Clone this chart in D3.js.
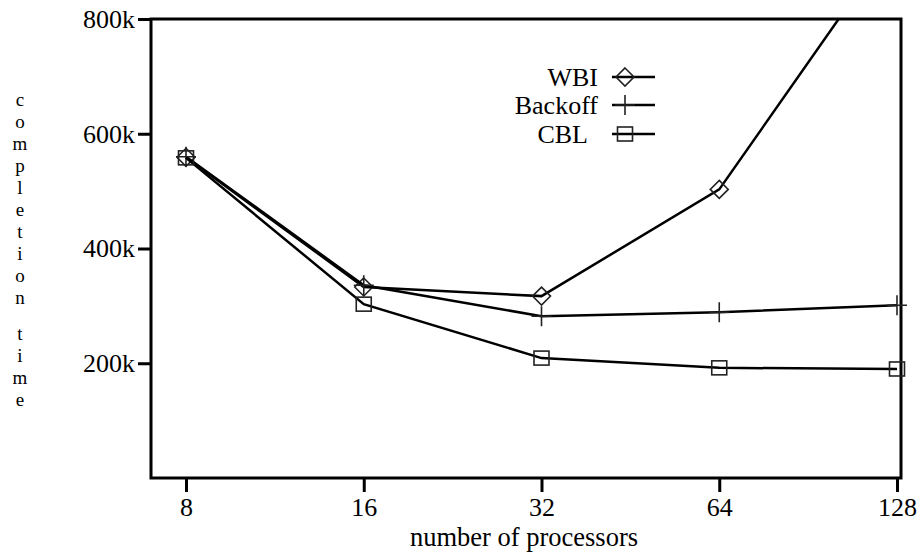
<!DOCTYPE html>
<html>
<head>
<meta charset="utf-8">
<script src="https://cdn.jsdelivr.net/npm/d3@7"></script>
<style>
  body { margin: 0; background: #fff; }
  svg text { font-family: "Liberation Serif", serif; fill: #000; }
</style>
</head>
<body>
<div class="canvas"></div>
<script>
// data
const procs = [8, 16, 32, 64, 128];
const wbi = [559, 333, 317, 503, 945];      // in thousands
const backoff = [560, 336, 282, 289, 301];
const cbl = [558, 303, 209, 192, 190];
const yTicks = [200, 400, 600, 800];
const seriesNames = ['WBI', 'Backoff', 'CBL'];
const seriesShapes = ['diamond', 'plus', 'square'];

const FONT = '"Liberation Serif", serif';

// dimensions
const dims = { width: 918, height: 554 };
const box = { left: 151, right: 901, top: 19, bottom: 478 };

const svg = d3.select('.canvas')
    .append('svg')
    .attr('width', dims.width)
    .attr('height', dims.height);

// scales
const x = d3.scaleLog().base(2)
    .domain([8, 128])
    .range([186, 897]);

const y = d3.scaleLinear()
    .domain([0, 800])
    .range([box.bottom, box.top]);

// clip for data lines
svg.append('clipPath').attr('id', 'plotclip')
  .append('rect')
    .attr('x', box.left)
    .attr('y', box.top)
    .attr('width', box.right - box.left)
    .attr('height', box.bottom - box.top);

// x axis (ticks hang below the frame)
const xAxis = d3.axisBottom(x)
    .tickValues(procs)
    .tickFormat(d3.format('d'))
    .tickSize(14)
    .tickSizeOuter(0)
    .tickPadding(6);

const gx = svg.append('g')
    .attr('transform', `translate(0, ${box.bottom})`)
    .call(xAxis)
    .attr('font-family', FONT)
    .attr('font-size', 26);
gx.select('.domain').remove();
gx.selectAll('line').attr('stroke', '#000').attr('stroke-width', 3);

// y axis (ticks stick out left)
const yAxis = d3.axisLeft(y)
    .tickValues(yTicks)
    .tickFormat(d => d + 'k')
    .tickSize(13)
    .tickSizeOuter(0)
    .tickPadding(3);

const gy = svg.append('g')
    .attr('transform', `translate(${box.left}, 0)`)
    .call(yAxis)
    .attr('font-family', FONT)
    .attr('font-size', 26);
gy.select('.domain').remove();
gy.selectAll('line').attr('stroke', '#000').attr('stroke-width', 3);

// frame
svg.append('rect')
    .attr('x', box.left)
    .attr('y', box.top)
    .attr('width', box.right - box.left)
    .attr('height', box.bottom - box.top)
    .attr('fill', 'none')
    .attr('stroke', '#000')
    .attr('stroke-width', 3);

// axis titles
svg.append('text')
    .attr('x', 524)
    .attr('y', 546)
    .attr('text-anchor', 'middle')
    .attr('font-family', FONT)
    .attr('font-size', 26.5)
    .text('number of processors');

// vertical stacked y label, one letter per line
const yLetters = 'completion time'.split('');
let ly = 106;
yLetters.forEach(ch => {
    if (ch === ' ') { ly += 14; return; }
    svg.append('text')
        .attr('x', 20)
        .attr('y', ly)
        .attr('text-anchor', 'middle')
        .attr('font-family', FONT)
        .attr('font-size', 19)
        .text(ch);
    ly += 22;
});

// marker generator
const marker = (g, shape) => {
    if (shape === 'diamond') {
        g.append('path').attr('d', 'M0,-9L9,0L0,9L-9,0Z');
    } else if (shape === 'square') {
        g.append('rect').attr('x', -7.5).attr('y', -7).attr('width', 15).attr('height', 14);
    } else {
        g.append('path').attr('d', 'M0,-10V10M-10,0H10');
    }
    g.selectAll('path, rect')
        .attr('fill', 'none')
        .attr('stroke', '#222')
        .attr('stroke-width', 1.6);
};

const line = d3.line()
    .x((d, i) => x(procs[i]))
    .y(d => y(d));

const series = [wbi, backoff, cbl];

series.forEach((vals, s) => {
    svg.append('path')
        .datum(vals)
        .attr('clip-path', 'url(#plotclip)')
        .attr('fill', 'none')
        .attr('stroke', '#000')
        .attr('stroke-width', 2.5)
        .attr('d', line);

    vals.forEach((v, i) => {
        if (v > 800) return; // off the chart
        const g = svg.append('g')
            .attr('transform', `translate(${x(procs[i])}, ${y(v)})`);
        marker(g, seriesShapes[s]);
    });
});

// legend
const legend = svg.append('g');
const legendY = [77, 105, 134];
seriesNames.forEach((name, i) => {
    legend.append('text')
        .attr('x', name === 'CBL' ? 588 : 598)
        .attr('y', legendY[i])
        .attr('dy', '0.35em')
        .attr('text-anchor', 'end')
        .attr('font-family', FONT)
        .attr('font-size', 26)
        .text(name);
    legend.append('line')
        .attr('x1', 612).attr('x2', 655)
        .attr('y1', legendY[i]).attr('y2', legendY[i])
        .attr('stroke', '#000')
        .attr('stroke-width', 2.5);
    const g = legend.append('g')
        .attr('transform', `translate(625, ${legendY[i]})`);
    marker(g, seriesShapes[i]);
});
</script>
</body>
</html>
